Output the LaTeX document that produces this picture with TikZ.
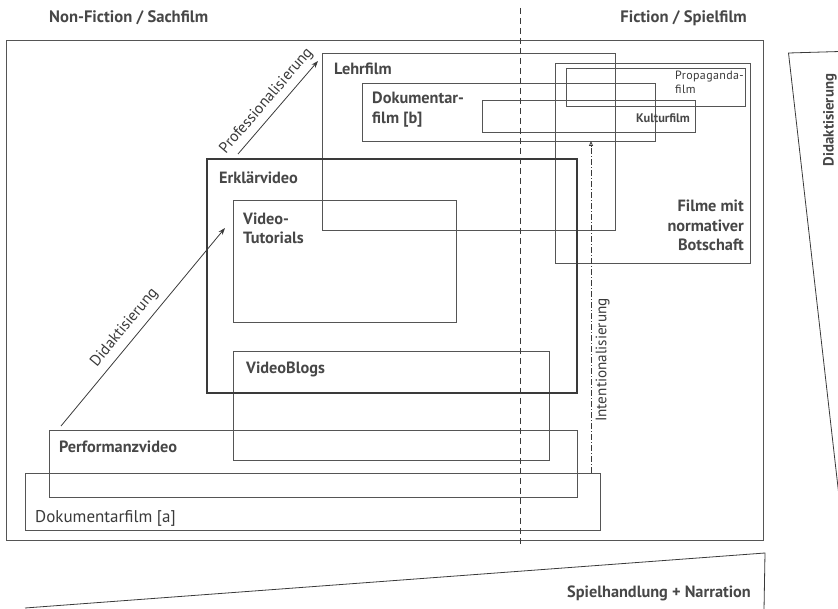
\documentclass[tikz,border=0pt]{standalone}
\usepackage{fontspec}
\setmainfont{PT Sans}
\usetikzlibrary{arrows.meta,fit}
\definecolor{ink}{HTML}{3A3A3A}
\definecolor{softink}{HTML}{474747}
\definecolor{linec}{HTML}{555555}
\begin{document}
\begin{tikzpicture}[x=1pt,y=-1pt,
  box/.style={draw=linec, line width=0.9pt, inner sep=0pt, outer sep=0pt},
  heavybox/.style={draw=ink, line width=2.2pt, inner sep=0pt, outer sep=0pt},
  wedge/.style={draw=ink, line width=0.8pt},
  lbl/.style={text=softink, inner sep=0pt, font=\bfseries\fontsize{16.3}{19}\selectfont},
  headlbl/.style={text=softink, inner sep=0pt, font=\bfseries\fontsize{16.6}{20}\selectfont},
  plainlbl/.style={text=ink, inner sep=0pt, font=\fontsize{17}{19}\selectfont},
  smalllbl/.style={text=ink, inner sep=0pt, font=\fontsize{12}{14}\selectfont\addfontfeature{LetterSpace=3}},
  smallbold/.style={text=softink, inner sep=0pt, font=\bfseries\fontsize{12.4}{14}\selectfont},
  arrowlbl/.style={text=ink, inner sep=0pt, font=\fontsize{15.5}{18}\selectfont},
  flow/.style={draw=ink, line width=0.8pt, -{Stealth[length=7pt,width=5pt]}},
  divider/.style={draw=ink, line width=0.9pt, dash pattern=on 6pt off 4pt},
  intent/.style={draw=ink, line width=0.8pt, dash pattern=on 6pt off 2pt on 1pt off 2pt,
                 -{Triangle[open,length=5pt,width=4pt]}}
]
\useasboundingbox (0,0) rectangle (838,609);

% headings
\node[headlbl, anchor=base west] (hnf) at (49,23) {Non-Fiction / Sachfilm};
\node[headlbl, anchor=base east] (hf) at (747,23) {Fiction / Spielfilm};

% outer frame
\node[box, fit={(6,40) (763,540)}] (frame) {};

% boxes
\node[box, fit={(322,53) (615,230)}] (lehr) {};
\node[box, fit={(362,83) (655,141)}] (dokb) {};
\node[box, fit={(482,100) (695,132)}] (kultur) {};
\node[box, fit={(566,68) (745,106)}] (propa) {};
\node[box, fit={(555,63) (750,263)}] (norm) {};
\node[box, fit={(233,200) (456,322)}] (tut) {};
\node[box, fit={(233,351) (549,460)}] (blogs) {};
\node[box, fit={(49,430) (577,497)}] (perf) {};
\node[box, fit={(25,473) (600,530)}] (doka) {};
\node[heavybox, fit={(207,159) (577,393)}] (erkl) {};

% fiction / non-fiction divider
\coordinate (divtop) at (520,8);
\coordinate (divbot) at (520,544);
\draw[divider] (divtop) -- (divbot);

% labels inside the boxes
\node[lbl, anchor=base west] at (334,75) {Lehrfilm};
\node[lbl, anchor=base west] at (372,104) {Dokumentar-};
\node[lbl, anchor=base west] at (372,124) {film [b]};
\node[smalllbl, anchor=base west] at (675,80) {Propaganda-};
\node[smalllbl, anchor=base west] at (675,94) {film};
\node[smallbold, anchor=base west] at (636,123) {Kulturfilm};
\node[lbl, anchor=base east] at (744,212) {Filme mit};
\node[lbl, anchor=base east] at (744,232) {normativer};
\node[lbl, anchor=base east] at (744,251) {Botschaft};
\node[lbl, anchor=base west] at (219,184) {Erklärvideo};
\node[lbl, anchor=base west] at (243,225) {Video-};
\node[lbl, anchor=base west] at (243,244) {Tutorials};
\node[lbl, anchor=base west] at (246,374) {VideoBlogs};
\node[lbl, anchor=base west] at (59,452) {Performanzvideo};
\node[plainlbl, anchor=base west] at (35,522) {Dokumentarfilm [a]};

% development arrows
\coordinate (profA) at (238,154);
\coordinate (profB) at (318,61);
\draw[flow] (profA) -- (profB);
\node[arrowlbl, anchor=base, rotate=49.3] at (269.5,103.5) {Professionalisierung};

\coordinate (didA) at (61,426);
\coordinate (didB) at (225,228);
\draw[flow] (didA) -- (didB);
\node[arrowlbl, anchor=base, rotate=50.4] at (127.5,330) {Didaktisierung};

\coordinate (intA) at (591,473);
\coordinate (intB) at (591,141);
\draw[intent] (intA) -- (intB);
\node[arrowlbl, rotate=90, font=\fontsize{15.2}{17}\selectfont] at (602.5,360) {Intentionalisierung};

% wedges along the margins
\coordinate (rwA) at (840,51.5);
\coordinate (rwB) at (788.5,53);
\coordinate (rwC) at (840,505);
\draw[wedge] (rwA) -- (rwB) -- (rwC);
\node[lbl, rotate=90, font=\bfseries\fontsize{14.8}{17}\selectfont] at (830,120) {Didaktisierung};

\coordinate (bwA) at (25,608);
\coordinate (bwB) at (765,553);
\coordinate (bwC) at (764,610);
\draw[wedge] (bwA) -- (bwB) -- (bwC);
\node[lbl, anchor=base east] at (751,597) {Spielhandlung + Narration};
\end{tikzpicture}
\end{document}
